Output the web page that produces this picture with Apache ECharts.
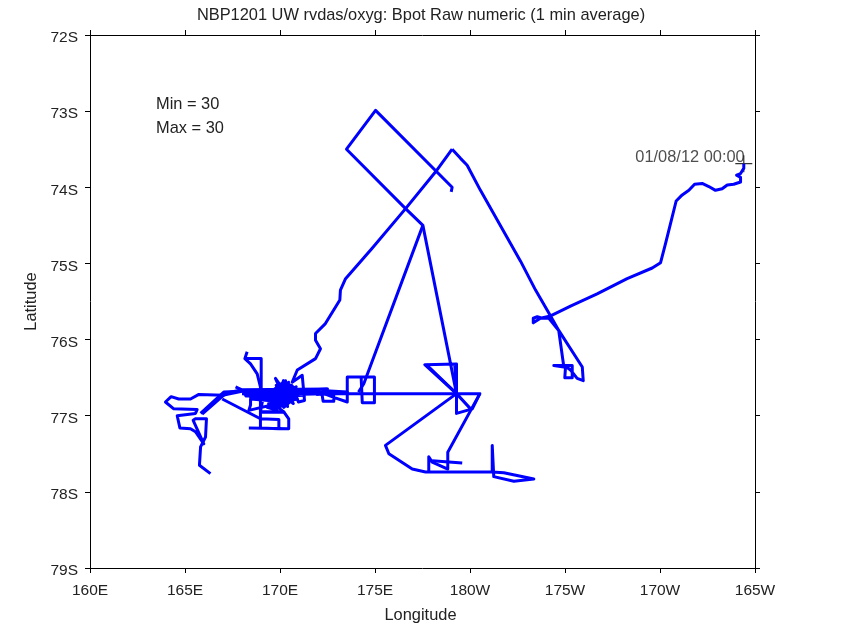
<!DOCTYPE html>
<html>
<head>
<meta charset="utf-8">
<script src="https://cdn.jsdelivr.net/npm/echarts@6/dist/echarts.min.js"></script>
<style>
  html, body { margin: 0; background: #fff; }
  #chart { width: 865px; height: 624px; }
</style>
</head>
<body>
<div id="chart"></div>
<script>
// ship track, [longitude 0-360, latitude south]
var startPoint = [194.41, 73.69]
var startLabel = '01/08/12 00:00'
var statLines = ['Min = 30', 'Max = 30']

var legTransit = [
  [194.41, 73.69], [194.41, 73.75], [194.24, 73.82], [194.03, 73.84], [194.24, 73.87], [194.24, 73.93],
  [193.88, 73.96], [193.54, 73.97], [193.27, 74.02], [192.92, 74.04], [192.57, 73.99], [192.22, 73.95],
  [191.82, 73.96], [191.52, 74.04], [191.17, 74.10], [190.85, 74.18], [190.55, 74.48], [190.29, 74.74],
  [190.03, 74.99], [189.59, 75.06], [188.27, 75.20], [186.69, 75.40], [185.29, 75.56], [184.24, 75.69],
  [183.71, 75.72], [183.33, 75.78], [183.33, 75.72], [183.54, 75.70], [183.80, 75.72], [184.15, 75.72],
  [184.67, 75.88], [184.94, 76.36], [184.41, 76.34], [185.38, 76.34], [185.38, 76.50], [184.99, 76.50],
  [185.03, 76.35], [185.29, 76.40], [185.64, 76.51], [185.96, 76.54], [185.91, 76.36], [184.67, 75.88],
  [184.24, 75.69], [183.45, 75.35], [182.66, 74.97], [180.55, 74.04], [179.85, 73.71], [179.50, 73.62],
  [179.06, 73.50]
]
var legCoast = [
  [179.06, 73.50], [178.18, 73.80], [176.61, 74.28], [174.85, 74.80], [173.45, 75.20], [173.18, 75.35],
  [173.15, 75.48], [172.39, 75.79], [171.87, 75.92], [171.87, 76.01], [172.13, 76.12], [171.87, 76.25],
  [170.91, 76.40], [170.64, 76.56], [171.17, 76.47], [171.29, 76.80], [170.97, 76.82], [170.64, 76.61],
  [170.38, 76.73]
]
var legStar = [
  [170.38, 76.73], [169.76, 76.51], [170.38, 76.86], [170.29, 76.54], [169.50, 76.69], [170.20, 76.89],
  [171.08, 76.69], [170.18, 76.54], [169.80, 76.80], [170.60, 76.60], [170.60, 76.80], [169.80, 76.60],
  [170.20, 76.85], [170.85, 76.62], [169.65, 76.76], [170.82, 76.76], [170.15, 76.58], [170.40, 76.88],
  [169.90, 76.64], [170.92, 76.72], [170.00, 76.84], [170.45, 76.56], [170.00, 76.70], [170.70, 76.84],
  [170.30, 76.62], [169.70, 76.66]
]
var legBand = [
  [167.66, 76.62], [168.00, 76.66], [172.50, 76.65], [168.10, 76.68], [172.30, 76.67], [168.10, 76.70],
  [172.00, 76.69], [168.15, 76.72], [171.90, 76.71], [168.20, 76.74], [171.30, 76.73], [168.45, 76.76],
  [170.90, 76.75], [168.45, 76.78], [170.90, 76.78], [168.36, 76.93], [168.45, 76.86], [168.45, 76.78],
  [170.29, 76.82], [169.33, 76.89], [169.85, 76.93], [169.15, 76.71], [168.97, 76.95], [170.20, 76.95],
  [169.85, 76.88], [169.40, 76.84], [170.40, 76.84], [169.60, 76.92]
]
var legBox = [
  [168.36, 77.16], [170.46, 77.17], [170.46, 77.04], [170.20, 76.95], [168.97, 76.95], [168.97, 77.04],
  [169.94, 77.05], [169.94, 77.17], [168.97, 77.16], [168.97, 76.67]
]
var legNorth = [
  [168.27, 76.16], [168.15, 76.25], [168.45, 76.32], [168.80, 76.45], [168.97, 76.62], [168.97, 76.68]
]
var legNorthTop = [[168.15, 76.25], [169.01, 76.25], [169.01, 76.67]]
var legWest = [
  [168.00, 76.66], [167.39, 76.69], [167.04, 76.73], [165.73, 76.72], [165.29, 76.78], [164.67, 76.78],
  [164.27, 76.75], [163.97, 76.82], [164.41, 76.91], [165.64, 76.92], [165.55, 76.97], [164.59, 77.00],
  [164.73, 77.16], [165.29, 77.17], [165.55, 77.21], [165.99, 77.37], [165.43, 77.06], [165.55, 77.04],
  [166.13, 77.04], [166.08, 77.28], [165.82, 77.41], [165.76, 77.65], [166.34, 77.76]
]
var legWestDiagonal = [
  [165.82, 76.97], [166.78, 76.75], [167.04, 76.69], [168.00, 76.68], [167.04, 76.73], [165.90, 76.98]
]
var legWestBranch = [[166.96, 76.78], [168.97, 77.04]]
var legEast = [
  [171.96, 76.67], [172.22, 76.73], [172.27, 76.81], [172.83, 76.81], [172.83, 76.73], [172.22, 76.70],
  [172.83, 76.76], [173.54, 76.82], [173.54, 76.49], [174.27, 76.49], [174.33, 76.83], [174.97, 76.83],
  [174.97, 76.49], [174.27, 76.49]
]
var legEastDouble = [[171.90, 76.72], [173.54, 76.69], [172.20, 76.67]]
var legMain = [[168.00, 76.71], [179.29, 76.71]]
var legFan = [
  [179.01, 74.06], [179.06, 74.00], [175.03, 72.99], [173.50, 73.50], [176.61, 74.28], [177.52, 74.50],
  [179.29, 76.71], [177.62, 76.33], [179.29, 76.32], [179.29, 76.97], [180.12, 76.91], [180.52, 76.71],
  [179.29, 76.71], [180.03, 76.91]
]
var legFanDouble = [[177.70, 76.33], [179.29, 76.71], [179.20, 76.34]]
var legFanWest = [[177.52, 74.50], [174.41, 76.58], [174.13, 76.69]]
var legSouth = [
  [180.52, 76.71], [178.83, 77.48], [178.83, 77.70], [178.01, 77.61], [177.83, 77.54], [177.83, 77.74]
]
var legSouthSpur = [[178.01, 77.59], [179.59, 77.62]]
var legSouthEast = [
  [179.29, 76.71], [175.55, 77.39], [175.73, 77.50], [176.96, 77.70], [177.66, 77.74], [181.17, 77.74],
  [181.17, 77.39], [181.25, 77.80], [182.31, 77.86], [183.36, 77.83], [181.78, 77.75], [181.17, 77.74]
]

var legs = [
  legTransit, legCoast, legStar, legBand, legBox, legNorth, legNorthTop, legWest, legWestDiagonal,
  legWestBranch, legEast, legEastDouble, legMain, legFan, legFanDouble, legFanWest, legSouth,
  legSouthSpur, legSouthEast
]

function lonLabel(v) {
  if (v <= 180) return v === 180 ? '180W' : v + 'E'
  return (360 - v) + 'W'
}

const textColor = '#222'
const textFont = 'Liberation Sans'
const chart = echarts.init(document.getElementById('chart'), null, { renderer: 'canvas' })

var series = legs.map(function (leg) {
  return {
    type: 'line',
    data: leg,
    symbol: 'none',
    silent: true,
    lineStyle: { color: '#0000ff', width: 3, join: 'round' }
  }
})
// cross at the first position, with its time stamp
series.push({
  type: 'scatter',
  data: [startPoint],
  symbol: 'path://M0 5H10M5 0V10',
  symbolSize: 17,
  itemStyle: { color: 'transparent', borderColor: '#000', borderWidth: 1.2 },
  label: {
    show: true,
    position: 'left',
    offset: [15, -6],
    formatter: startLabel,
    color: textColor,
    fontFamily: textFont,
    fontSize: 16.4
  }
})

var axisLine = { lineStyle: { color: '#000', width: 1 } }
var axisTick = { length: 5, lineStyle: { color: '#000', width: 1 } }

var option = {
  animation: false,
  backgroundColor: '#fff',
  title: {
    text: 'NBP1201 UW rvdas/oxyg: Bpot Raw numeric (1 min average)',
    left: 416,
    top: 2,
    textAlign: 'center',
    textStyle: { color: textColor, fontFamily: textFont, fontSize: 16.4, fontWeight: 'normal' }
  },
  // keep the frame where it is, the axis names sit near the page edge
  grid: { left: 90, right: 110, top: 35, bottom: 56, outerBoundsMode: 'none' },
  xAxis: [{
    type: 'value',
    min: 160,
    max: 195,
    interval: 5,
    name: 'Longitude',
    nameLocation: 'middle',
    nameGap: 39,
    nameTextStyle: { color: textColor, fontFamily: textFont, fontSize: 16.4, padding: [0, 4, 0, 0] },
    axisLine: axisLine,
    axisTick: axisTick,
    splitLine: { show: false },
    axisLabel: { color: textColor, fontFamily: textFont, fontSize: 15.5, margin: 15, formatter: lonLabel }
  }, {
    type: 'value',
    position: 'top',
    min: 160,
    max: 195,
    interval: 5,
    axisLine: axisLine,
    axisTick: axisTick,
    splitLine: { show: false },
    axisLabel: { show: false }
  }],
  yAxis: [{
    type: 'value',
    inverse: true,
    min: 72,
    max: 79,
    interval: 1,
    name: 'Latitude',
    nameLocation: 'middle',
    nameGap: 50,
    nameTextStyle: { color: textColor, fontFamily: textFont, fontSize: 16.4 },
    axisLine: axisLine,
    axisTick: axisTick,
    splitLine: { show: false },
    axisLabel: {
      color: textColor,
      fontFamily: textFont,
      fontSize: 15.5,
      margin: 12,
      verticalAlign: 'top',
      lineHeight: 6,
      formatter: '{value}S'
    }
  }, {
    type: 'value',
    position: 'right',
    inverse: true,
    min: 72,
    max: 79,
    interval: 1,
    axisLine: axisLine,
    axisTick: axisTick,
    splitLine: { show: false },
    axisLabel: { show: false }
  }],
  graphic: statLines.map(function (line, i) {
    return {
      type: 'text',
      left: 156,
      top: 96 + i * 24,
      style: { text: line, fill: textColor, font: '16.4px "Liberation Sans"' }
    }
  }),
  series: series
}

chart.setOption(option)
</script>
</body>
</html>
